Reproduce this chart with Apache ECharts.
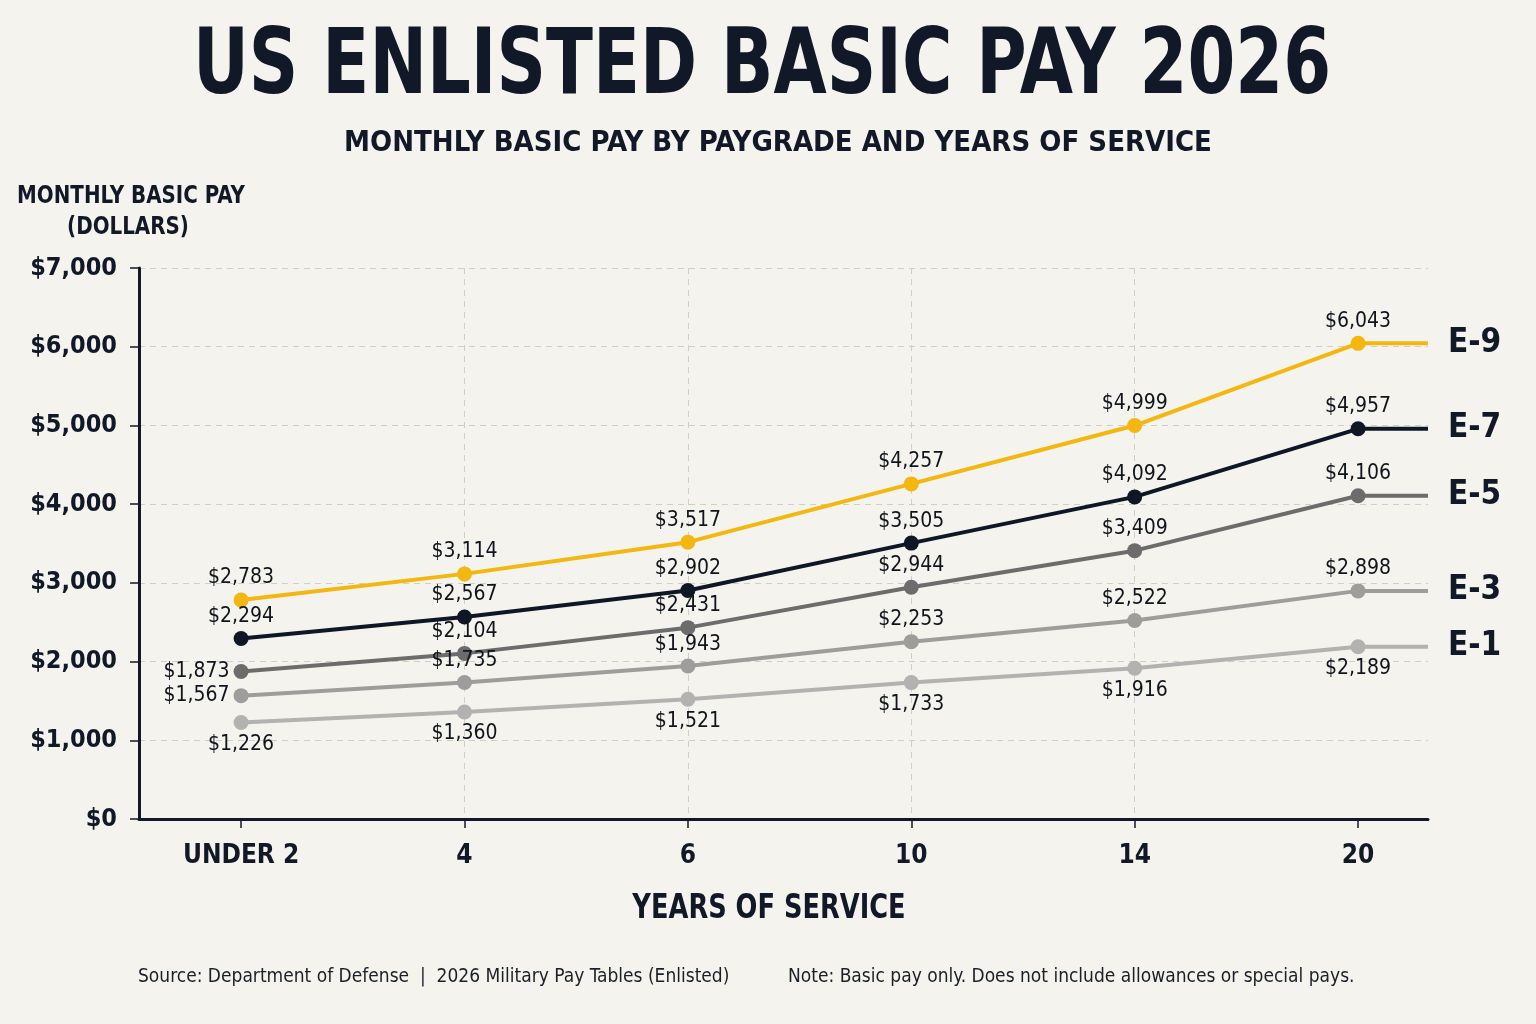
<!DOCTYPE html>
<html>
<head>
<meta charset="utf-8">
<title>US Enlisted Basic Pay 2026</title>
<script src="https://cdn.jsdelivr.net/npm/echarts@6/dist/echarts.min.js"></script>
<style>
html, body { margin: 0; padding: 0; background: #f4f3ee; }
#chart { width: 1536px; height: 1024px; }
</style>
</head>
<body>
<div id="chart"></div>
<script>
// years of service (x categories)
const years = ['UNDER 2', '4', '6', '10', '14', '20']

// monthly basic pay, dollars
const e9 = [2783, 3114, 3517, 4257, 4999, 6043]
const e7 = [2294, 2567, 2902, 3505, 4092, 4957]
const e5 = [1873, 2104, 2431, 2944, 3409, 4106]
const e3 = [1567, 1735, 1943, 2253, 2522, 2898]
const e1 = [1226, 1360, 1521, 1733, 1916, 2189]

const FONT = '"DejaVu Sans Condensed", "DejaVu Sans", sans-serif'
const INK = '#111827'
const BG = '#f4f3ee'
const X_MIN = -0.457
const X_MAX = 5.313

function money(v) {
  return '$' + v.toLocaleString('en-US')
}

function lineSeries(name, values, color) {
  const pts = values.map((v, i) => [i, v])
  // flat run-out to the right edge of the plot
  pts.push({ value: [X_MAX, values[values.length - 1]], symbol: 'none' })
  return {
    name: name,
    type: 'line',
    data: pts,
    symbol: 'circle',
    symbolSize: 15,
    lineStyle: { color: color, width: 4 },
    itemStyle: { color: color },
    label: { show: false },
    endLabel: {
      show: true,
      formatter: '{a}',
      offset: [12, 0],
      fontFamily: FONT,
      fontSize: 33,
      fontWeight: 'bold',
      color: INK
    },
    emphasis: { disabled: true },
    silent: true,
    z: 2
  }
}

// value labels sit on their own layer so no line covers them
// pos: default label side, firstPos: side for the UNDER 2 point (lines are tight there)
function labelSeries(values, pos, firstPos) {
  return {
    type: 'scatter',
    data: values.map((v, i) => {
      if (i === 0 && firstPos) {
        return { value: [i, v], label: { position: firstPos } }
      }
      return [i, v]
    }),
    symbolSize: 15,
    itemStyle: { color: BG, opacity: 0 },
    label: {
      show: true,
      position: pos,
      distance: 4,
      formatter: (p) => money(p.value[1]),
      fontFamily: FONT,
      fontSize: 21,
      color: '#10141c',
      opacity: 1
    },
    emphasis: { disabled: true },
    silent: true,
    z: 5
  }
}

function text(x, y, str, font, opts) {
  return Object.assign({
    type: 'text',
    x: x,
    y: y,
    style: {
      x: 0, y: 0, text: str, font: font, fill: INK,
      textAlign: 'center', textVerticalAlign: 'middle'
    }
  }, opts || {})
}

const chart = echarts.init(document.getElementById('chart'))

chart.setOption({
  backgroundColor: BG,
  animation: false,
  textStyle: { fontFamily: FONT },
  grid: { left: 139, right: 108, top: 268, bottom: 205 },
  graphic: [
    text(762, 70, 'US ENLISTED BASIC PAY 2026', 'bold 90px ' + FONT, { scaleX: 0.85 }),
    text(778, 143, 'MONTHLY BASIC PAY BY PAYGRADE AND YEARS OF SERVICE', 'bold 29px ' + FONT),
    text(131, 197, 'MONTHLY BASIC PAY', 'bold 24px ' + FONT, { scaleX: 0.92 }),
    text(128, 228, '(DOLLARS)', 'bold 24px ' + FONT, { scaleX: 0.92 }),
    text(769, 909, 'YEARS OF SERVICE', 'bold 34px ' + FONT, { scaleX: 0.84 }),
    {
      type: 'text',
      style: {
        x: 138, y: 977, text: 'Source: Department of Defense  |  2026 Military Pay Tables (Enlisted)',
        textVerticalAlign: 'middle', font: '19px ' + FONT, fill: '#1b1f27'
      }
    },
    {
      type: 'text',
      style: {
        x: 788, y: 977, text: 'Note: Basic pay only. Does not include allowances or special pays.',
        textVerticalAlign: 'middle', font: '19px ' + FONT, fill: '#1b1f27'
      }
    }
  ],
  xAxis: {
    type: 'value',
    min: X_MIN,
    max: X_MAX,
    axisLine: { show: true, onZero: false, lineStyle: { color: INK, width: 3 } },
    axisTick: {
      show: true, length: 9, customValues: [0, 1, 2, 3, 4, 5],
      lineStyle: { color: INK, width: 1.5 }
    },
    axisLabel: {
      customValues: [0, 1, 2, 3, 4, 5],
      formatter: (v) => years[Math.round(v)],
      margin: 24,
      fontFamily: FONT,
      fontSize: 26,
      fontWeight: 'bold',
      color: INK
    },
    splitLine: {
      show: true, showMinLine: false, showMaxLine: false,
      lineStyle: { color: '#cfcec8', type: [6, 5], width: 1 }
    }
  },
  yAxis: {
    type: 'value',
    min: 0,
    max: 7000,
    interval: 1000,
    axisLine: { show: true, onZero: false, lineStyle: { color: INK, width: 3 } },
    axisTick: { show: true, length: 9, lineStyle: { color: INK, width: 1.5 } },
    axisLabel: {
      formatter: (v) => money(v),
      margin: 22,
      fontFamily: FONT,
      fontSize: 25,
      fontWeight: 'bold',
      color: INK
    },
    splitLine: {
      show: true, showMinLine: false,
      lineStyle: { color: '#cfcec8', type: [6, 5], width: 1 }
    }
  },
  series: [
    lineSeries('E-1', e1, '#b2b2b0'),
    lineSeries('E-3', e3, '#9d9d9b'),
    lineSeries('E-5', e5, '#6c6c6c'),
    lineSeries('E-7', e7, '#0f1726'),
    lineSeries('E-9', e9, '#f4b70f'),
    labelSeries(e1, 'bottom'),
    labelSeries(e3, 'top', 'left'),
    labelSeries(e5, 'top', 'left'),
    labelSeries(e7, 'top'),
    labelSeries(e9, 'top')
  ]
})
</script>
</body>
</html>
